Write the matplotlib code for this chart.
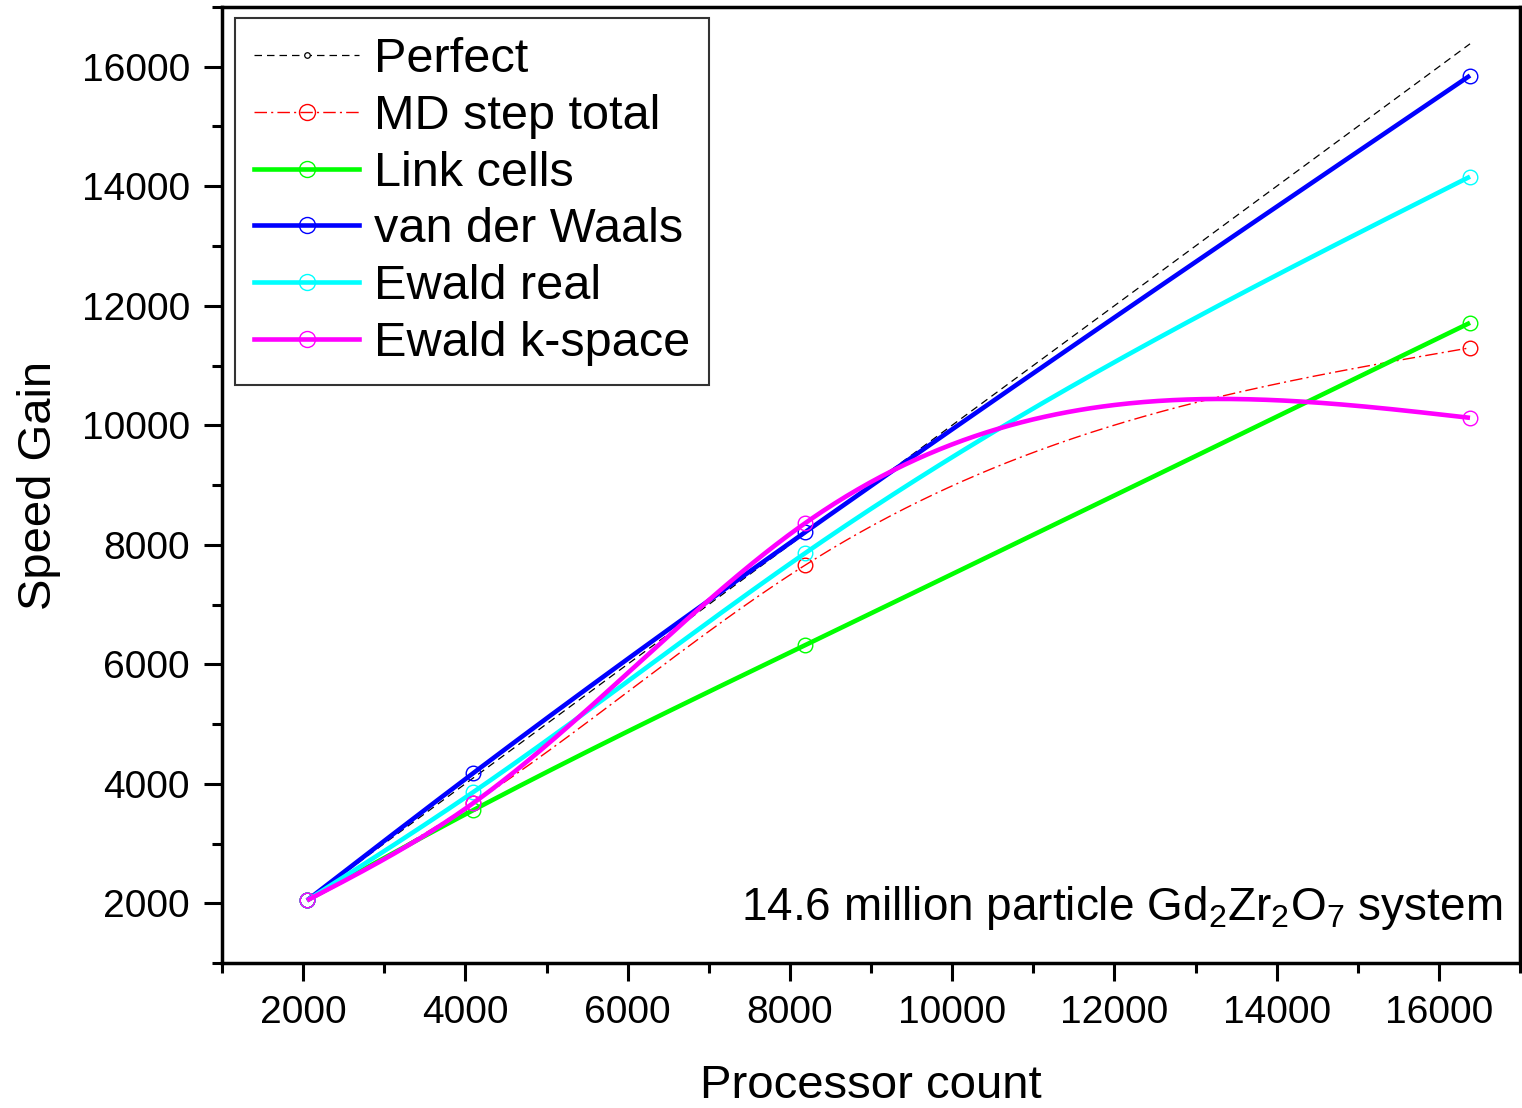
import numpy as np
import matplotlib
matplotlib.use("Agg")
import matplotlib.pyplot as plt
from matplotlib.ticker import MultipleLocator
from matplotlib.lines import Line2D

# ---------------- data ----------------
processors = [2048, 4096, 8192, 16384]
perfect = [2048, 4096, 8192, 16384]
md_step_total = [2048, 3675, 7662, 11296]
link_cells = [2048, 3558, 6322, 11715]
van_der_waals = [2048, 4177, 8214, 15853]
ewald_real = [2048, 3859, 7863, 14161]
ewald_kspace = [2048, 3675, 8365, 10124]

labels = ["Perfect", "MD step total", "Link cells", "van der Waals",
          "Ewald real", "Ewald k-space"]
annotation = r"14.6 million particle Gd$_2$Zr$_2$O$_7$ system"

# ---------------- fonts ----------------
plt.rcParams["font.family"] = ["Liberation Sans", "DejaVu Sans"]
plt.rcParams["mathtext.fontset"] = "custom"
plt.rcParams["mathtext.rm"] = "Liberation Sans"
plt.rcParams["mathtext.it"] = "Liberation Sans"
plt.rcParams["mathtext.default"] = "rm"


def natural_spline(x, y, n=400):
    x = np.asarray(x, float)
    y = np.asarray(y, float)
    m = len(x)
    h = np.diff(x)
    A = np.zeros((m, m))
    b = np.zeros(m)
    A[0, 0] = 1
    A[-1, -1] = 1
    for i in range(1, m - 1):
        A[i, i - 1] = h[i - 1]
        A[i, i] = 2 * (h[i - 1] + h[i])
        A[i, i + 1] = h[i]
        b[i] = 6 * ((y[i + 1] - y[i]) / h[i] - (y[i] - y[i - 1]) / h[i - 1])
    M = np.linalg.solve(A, b)
    xs = np.linspace(x[0], x[-1], n)
    idx = np.clip(np.searchsorted(x, xs) - 1, 0, m - 2)
    x0, x1 = x[idx], x[idx + 1]
    hh = x1 - x0
    a = (x1 - xs) / hh
    c = (xs - x0) / hh
    ys = (a * y[idx] + c * y[idx + 1]
          + ((a ** 3 - a) * M[idx] + (c ** 3 - c) * M[idx + 1]) * hh ** 2 / 6)
    return xs, ys


fig = plt.figure(figsize=(15.22, 11.08), dpi=100)
ax = fig.add_axes([222 / 1522, 1 - 963 / 1108, 1298 / 1522, 956 / 1108])

lw = 3.3
ms = 10.5
mew = 1.0

# Perfect
ax.plot(processors, perfect, color="black", lw=0.9, ls=(0, (6, 4)))
h0 = Line2D([], [], color="black", lw=0.9, ls=(0, (6, 4)), marker="o",
            ms=4, mfc="white", mec="black", mew=0.9, label=labels[0])

series = [
    (md_step_total, "#ff0000", 1.0, (0, (9, 3, 1.5, 3)), labels[1]),
    (link_cells, "#00ff00", lw, "-", labels[2]),
    (van_der_waals, "#0000ff", lw, "-", labels[3]),
    (ewald_real, "#00ffff", lw, "-", labels[4]),
    (ewald_kspace, "#ff00ff", lw, "-", labels[5]),
]
handles = [h0]
for ys, col, w, style, lab in series:
    xs_s, ys_s = natural_spline(processors, ys)
    ax.plot(xs_s, ys_s, color=col, lw=w, ls=style, solid_capstyle="butt")
    ax.plot(processors, ys, ls="none", marker="o", ms=ms, mfc="none",
            mec=col, mew=mew)
    h = Line2D([], [], color=col, lw=w, ls=style, marker="o", ms=ms + 1,
               mfc="none", mec=col, mew=mew, label=lab)
    handles.append(h)

leg = ax.legend(handles=handles, loc="upper left",
                bbox_to_anchor=(0.010, 0.9885), borderaxespad=0,
                fontsize=35, frameon=True, fancybox=False, shadow=False,
                handlelength=2.15, handletextpad=0.3, labelspacing=0.24,
                borderpad=0.4)
leg.get_frame().set_edgecolor("black")
leg.get_frame().set_linewidth(1.5)

ax.set_xlim(1000, 17000)
ax.set_ylim(1000, 17000)
ax.xaxis.set_minor_locator(MultipleLocator(1000))
ax.yaxis.set_minor_locator(MultipleLocator(1000))
ax.set_xticks([2000, 4000, 6000, 8000, 10000, 12000, 14000, 16000])
ax.set_yticks([2000, 4000, 6000, 8000, 10000, 12000, 14000, 16000])

ax.tick_params(which="major", direction="out", length=13, width=2.2,
               labelsize=28, pad=10, top=False, right=False)
ax.tick_params(which="minor", direction="out", length=7, width=2.2,
               top=False, right=False)
for s in ax.spines.values():
    s.set_linewidth(2.5)

ax.set_xlabel("Processor count", fontsize=34, labelpad=24)
ax.set_ylabel("Speed Gain", fontsize=34, labelpad=15)

ax.text(0.986, 0.045, annotation, transform=ax.transAxes, ha="right",
        va="baseline", fontsize=33)

fig.savefig("out.png", dpi=100)
